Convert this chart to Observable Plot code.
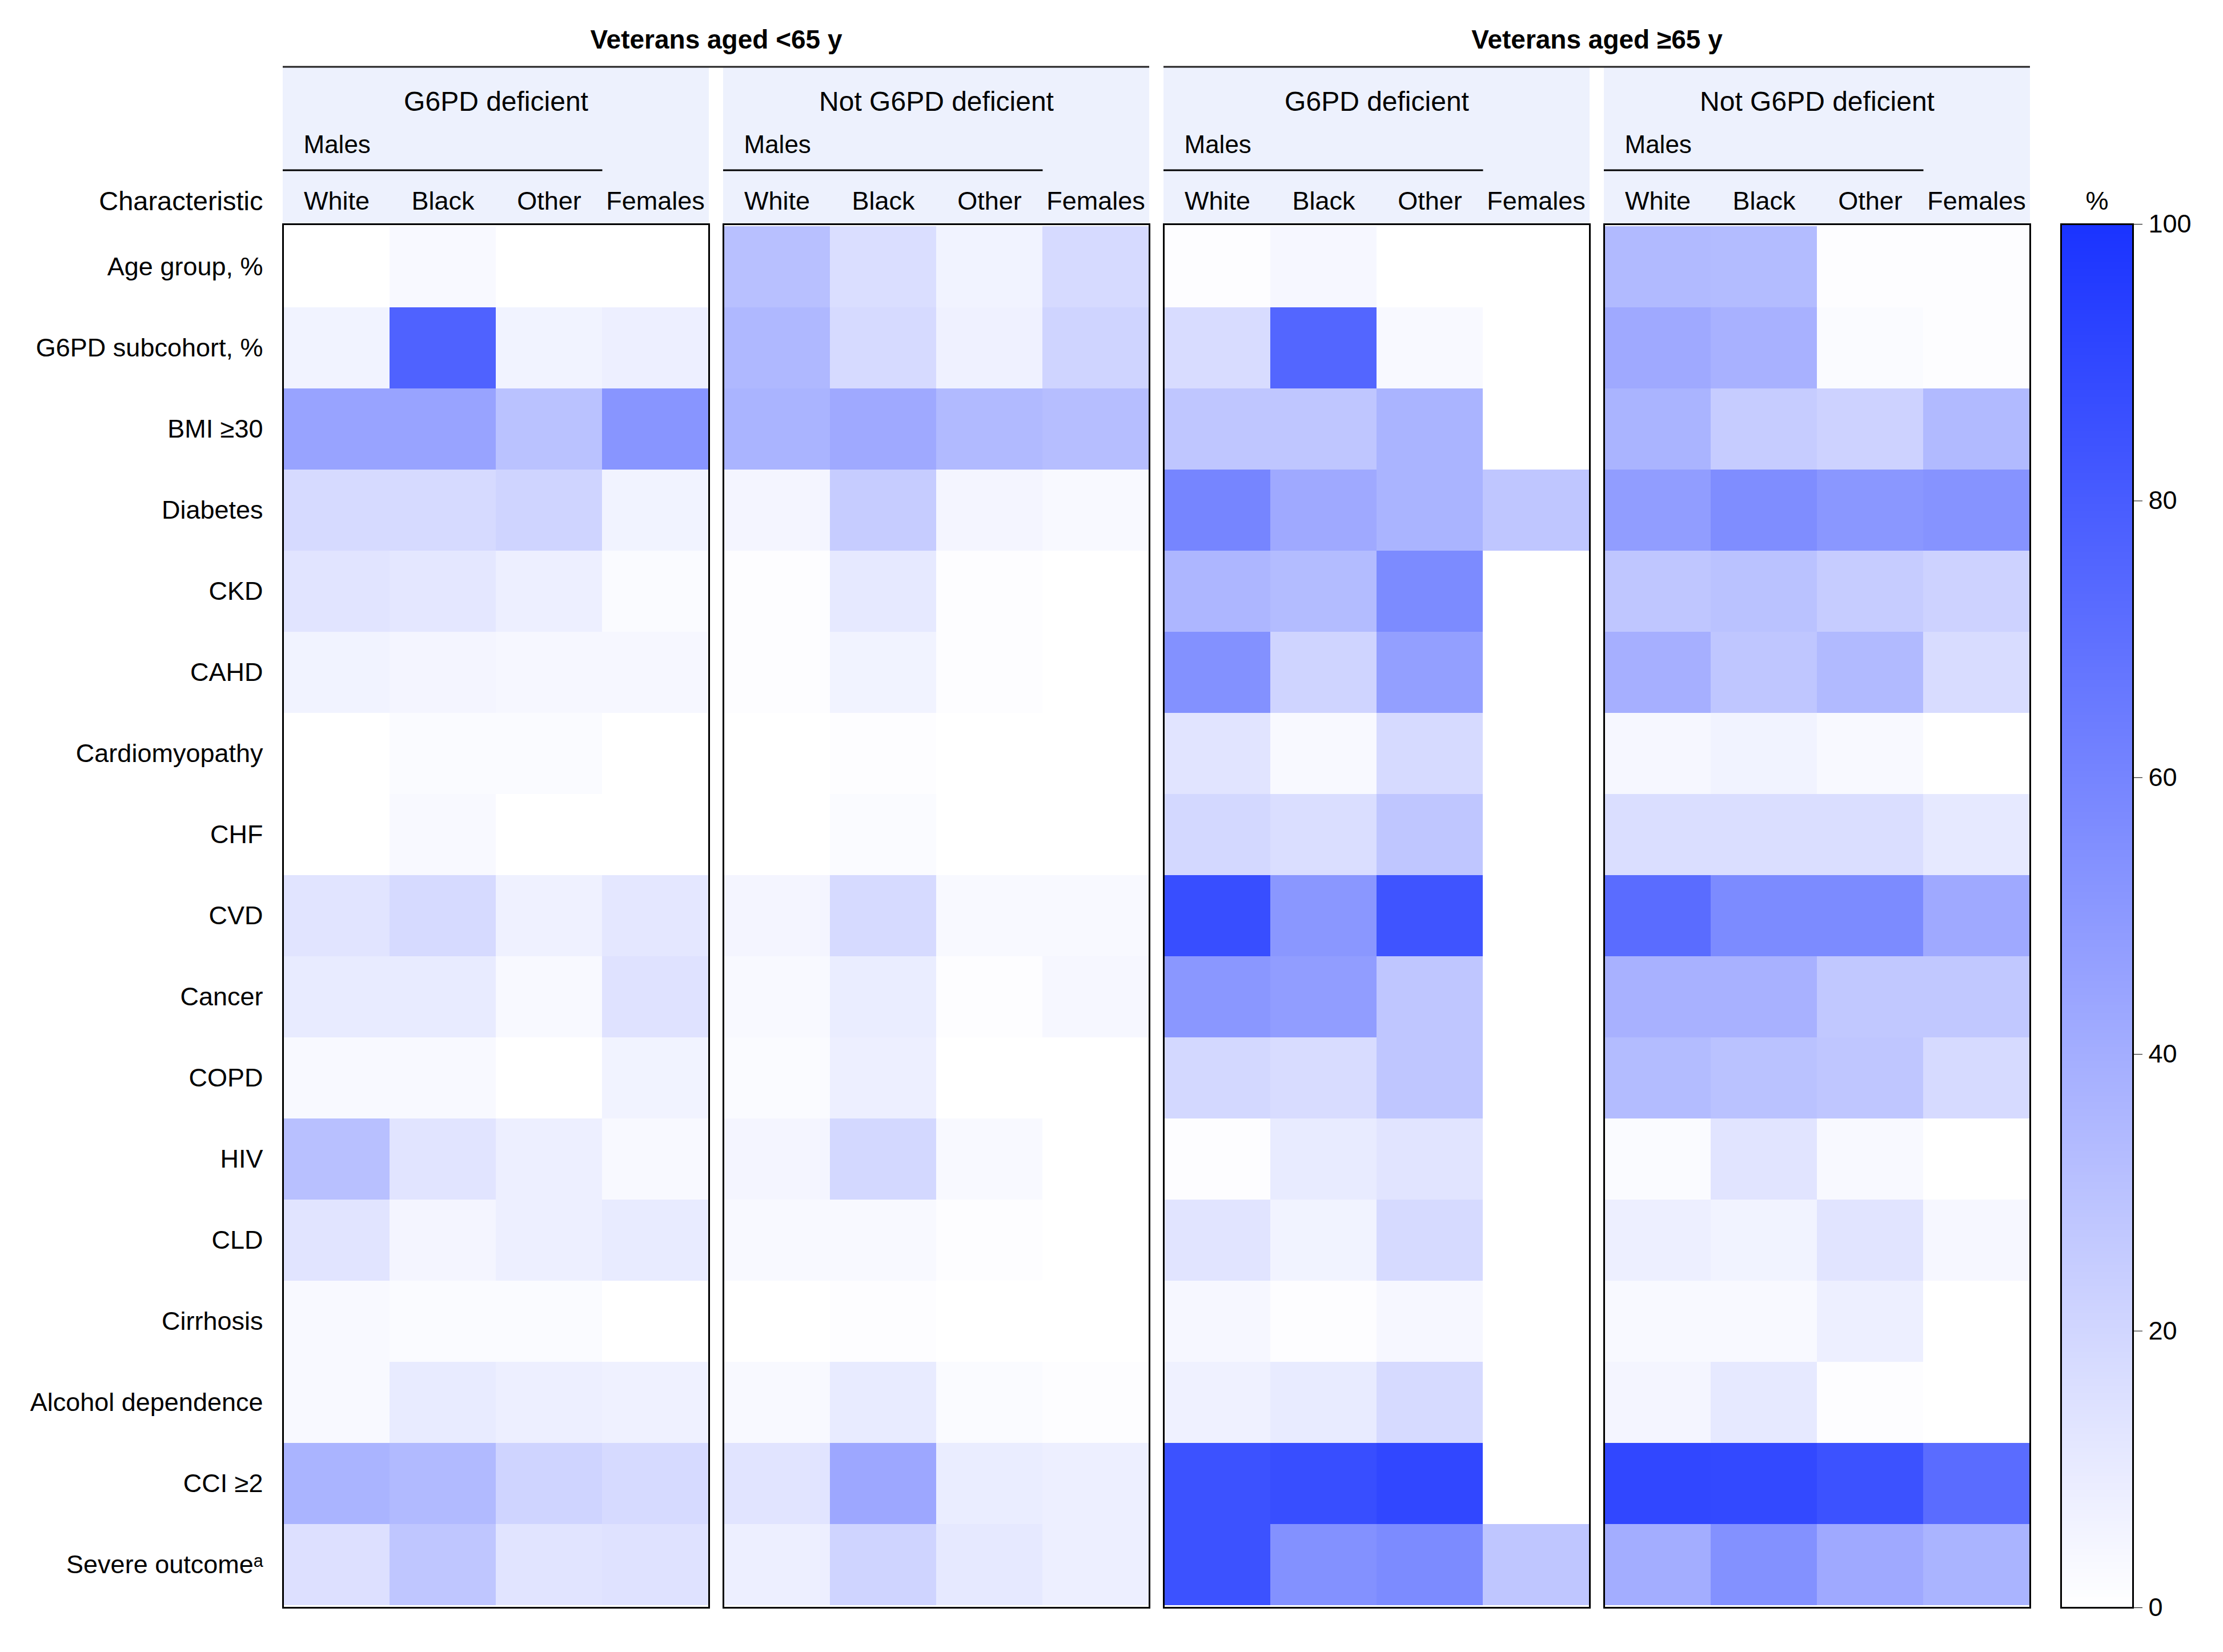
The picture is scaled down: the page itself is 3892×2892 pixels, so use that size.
<!DOCTYPE html>
<html>
<head>
<meta charset="utf-8">
<script src="https://cdn.jsdelivr.net/npm/d3@7"></script>
<script src="https://cdn.jsdelivr.net/npm/@observablehq/plot@0.6"></script>
<style>
  html, body { margin: 0; padding: 0; background: white; }
  #chart { position: relative; width: 3892px; height: 2892px; background: white; overflow: hidden; }
  #chart svg { position: absolute; top: 0; }
</style>
</head>
<body>
<div id="chart"></div>
<script>
// ---------------- DATA ----------------
const ageGroups = ["Veterans aged <65 y", "Veterans aged \u226565 y"];
const statusGroups = ["G6PD deficient", "Not G6PD deficient"];
const panelKeys = ["u65_def", "u65_not", "o65_def", "o65_not"];
const columns = ["White", "Black", "Other", "Females"];
const characteristics = [
  "Age group, %", "G6PD subcohort, %", "BMI \u226530", "Diabetes", "CKD", "CAHD",
  "Cardiomyopathy", "CHF", "CVD", "Cancer", "COPD", "HIV", "CLD", "Cirrhosis",
  "Alcohol dependence", "CCI \u22652", "Severe outcome\u1d43"
];
const legendTicks = [0, 20, 40, 60, 80, 100];

// values (%) per panel: rows = characteristics, cols = White, Black, Other, Females
const under65Deficient = [
  [0, 3, 0, 0], [6, 77, 6, 8], [45, 45, 30, 52], [18, 18, 21, 6], [13, 12, 8, 2],
  [6, 5, 4, 4], [0, 2, 2, 0], [0, 3, 0, 0], [13, 18, 7, 12], [10, 10, 3, 14],
  [3, 3, 0, 6], [31, 13, 8, 3], [13, 5, 8, 10], [3, 2, 2, 0], [3, 10, 8, 7],
  [37, 34, 21, 18], [15, 28, 13, 14]
];
const under65NotDeficient = [
  [31, 16, 6, 18], [35, 18, 7, 21], [37, 42, 34, 32], [5, 25, 5, 3], [1, 11, 1, 0],
  [1, 6, 1, 0], [0, 1, 0, 0], [0, 2, 0, 0], [5, 18, 3, 3], [3, 9, 1, 4],
  [2, 8, 0, 0], [5, 19, 3, 0], [3, 3, 1, 0], [0, 1, 0, 0], [3, 10, 2, 1],
  [13, 43, 9, 8], [8, 21, 11, 8]
];
const over65Deficient = [
  [1, 4, 0, 0], [17, 75, 3, 0], [28, 28, 37, 0], [60, 42, 37, 28], [36, 33, 57, 0],
  [54, 21, 47, 0], [13, 3, 18, 0], [19, 16, 28, 0], [87, 51, 84, 0], [51, 48, 28, 0],
  [19, 17, 28, 0], [1, 10, 13, 0], [13, 6, 18, 0], [4, 1, 4, 0], [7, 10, 18, 0],
  [85, 87, 90, 0], [85, 54, 57, 28]
];
const over65NotDeficient = [
  [34, 33, 1, 1], [42, 38, 2, 1], [37, 25, 22, 34], [48, 56, 51, 53], [28, 30, 25, 22],
  [39, 28, 34, 17], [4, 6, 3, 0], [16, 16, 16, 11], [72, 57, 57, 42], [38, 38, 27, 27],
  [33, 30, 28, 18], [2, 13, 3, 0], [8, 6, 13, 4], [3, 3, 8, 0], [5, 11, 1, 0],
  [90, 89, 85, 72], [40, 54, 42, 37]
];

// ---------------- BUILD ----------------
const panelValues = [under65Deficient, under65NotDeficient, over65Deficient, over65NotDeficient];
const cells = panelKeys.flatMap((p, pi) =>
  characteristics.flatMap((r, ri) =>
    columns.map((c, ci) => ({panel: p, row: r, col: c, value: panelValues[pi][ri][ci]}))));
const colLabels = panelKeys.flatMap(p => columns.map(c => ({panel: p, col: c})));

const FONT = '"Liberation Sans", Arial, sans-serif';
const colorScale = {type: "linear", domain: [0, 100], range: ["#ffffff", "#1a33ff"], interpolate: "rgb"};

const W = 3892, H = 2892;
const mTop = 392, mBottom = 78, mLeft = 495, mRight = 338;
const gap = 25, panelW = (W - mLeft - mRight - 3 * gap) / 4;

const main = Plot.plot({
  width: W, height: H,
  marginTop: mTop, marginBottom: mBottom, marginLeft: mLeft, marginRight: mRight,
  style: {fontFamily: FONT, fontSize: "45px", background: "transparent", color: "black"},
  fx: {domain: panelKeys, paddingInner: gap / (panelW + gap), paddingOuter: 0, axis: null, label: null},
  x: {domain: columns, padding: 0, axis: null},
  y: {domain: characteristics, padding: 0, axis: null},
  color: colorScale,
  marks: [
    Plot.cell(cells, {fx: "panel", x: "col", y: "row", fill: "value", inset: 0, shapeRendering: "crispEdges"}),
    Plot.frame({stroke: "black", strokeWidth: 3}),
    Plot.axisY({tickSize: 0, tickPadding: 35, fontSize: 45, label: null}),
    Plot.text(colLabels, {fx: "panel", x: "col", text: "col", frameAnchor: "top", dy: -40, lineAnchor: "middle", fontSize: 45}),
    Plot.text(["Characteristic"], {fx: () => panelKeys[0], text: d => d, frameAnchor: "top-left", dx: -35, dy: -40, textAnchor: "end", lineAnchor: "middle", fontSize: 47}),
    Plot.text(panelKeys, {fx: d => d, text: (d, i) => statusGroups[i % 2], frameAnchor: "top", dy: -214, lineAnchor: "middle", fontSize: 48}),
    Plot.text(panelKeys, {fx: d => d, text: () => "Males", frameAnchor: "top-left", dx: 36, dy: -139, textAnchor: "start", lineAnchor: "middle", fontSize: 44}),
    Plot.text(ageGroups, {fx: (d, i) => panelKeys[i * 2], text: d => d, frameAnchor: "top-right", dx: gap / 2, dy: -322, textAnchor: "middle", lineAnchor: "middle", fontSize: 46, fontWeight: "bold"})
  ]
});

// header decorations positioned from the facet scale
const fx = main.scale("fx");
const bw = fx.bandwidth;
const svg = d3.select(main);
const deco = svg.insert("g", ":first-child");
panelKeys.forEach(p => {
  const x0 = fx.apply(p);
  deco.append("rect").attr("x", x0).attr("y", 117).attr("width", bw).attr("height", mTop - 117).attr("fill", "#edf1fd");
  svg.append("line").attr("x1", x0).attr("x2", x0 + bw * 3 / 4).attr("y1", 298).attr("y2", 298)
    .attr("stroke", "black").attr("stroke-width", 3);
});
[0, 1].forEach(g => {
  const x0 = fx.apply(panelKeys[g * 2]);
  const x1 = fx.apply(panelKeys[g * 2 + 1]) + bw;
  svg.append("line").attr("x1", x0).attr("x2", x1).attr("y1", 117).attr("y2", 117)
    .attr("stroke", "#222").attr("stroke-width", 3);
});

// color bar
const stops = d3.range(0, 100, 0.25);
const legend = Plot.plot({
  width: 334, height: H,
  marginTop: mTop, marginBottom: mBottom, marginLeft: 50, marginRight: 158,
  style: {fontFamily: FONT, fontSize: "45px", background: "transparent", color: "black"},
  x: {domain: [0, 1], axis: null},
  y: {domain: [0, 100], axis: null},
  color: colorScale,
  marks: [
    Plot.rect(stops, {x1: 0, x2: 1, y1: d => d, y2: d => Math.min(100, d + 0.35), fill: d => d + 0.125, shapeRendering: "crispEdges"}),
    Plot.frame({stroke: "black", strokeWidth: 3}),
    Plot.axisY({anchor: "right", ticks: legendTicks, tickSize: 16, tickPadding: 11, fontSize: 45, label: null}),
    Plot.text(["%"], {text: d => d, frameAnchor: "top", dy: -40, lineAnchor: "middle", fontSize: 45})
  ]
});

const chart = document.getElementById("chart");
main.style.left = "0px";
legend.style.left = (W - 334) + "px";
chart.appendChild(main);
chart.appendChild(legend);
</script>
</body>
</html>
